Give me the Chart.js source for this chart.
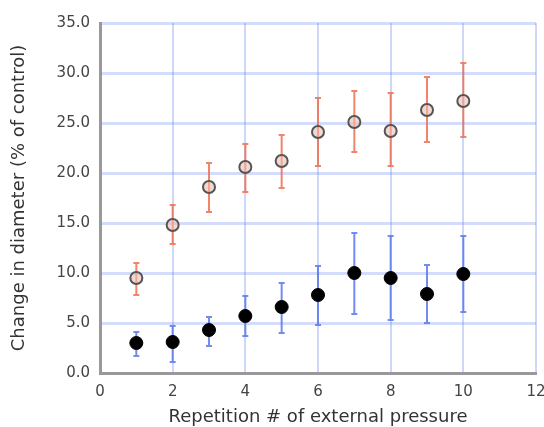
<!DOCTYPE html>
<html>
<head>
<meta charset="utf-8">
<script src="https://cdn.jsdelivr.net/npm/chart.js@4/dist/chart.umd.min.js"></script>
<style>
html,body{margin:0;padding:0;background:#fff;}
#wrap{width:544px;height:427px;position:relative;}
</style>
</head>
<body>
<div id="wrap"><canvas id="c" width="544" height="427"></canvas></div>
<script>
const repetitions = [1, 2, 3, 4, 5, 6, 7, 8, 9, 10];
const openMeans = [9.5, 14.8, 18.6, 20.6, 21.2, 24.1, 25.1, 24.2, 26.3, 27.2];
const openHigh  = [11.0, 16.8, 21.0, 22.9, 23.8, 27.5, 28.2, 28.0, 29.6, 31.0];
const openLow   = [7.8, 12.9, 16.1, 18.1, 18.5, 20.7, 22.1, 20.7, 23.1, 23.6];
const filledMeans = [3.0, 3.1, 4.3, 5.7, 6.6, 7.8, 10.0, 9.5, 7.9, 9.9];
const filledHigh  = [4.1, 4.7, 5.6, 7.7, 9.0, 10.7, 14.0, 13.7, 10.8, 13.7];
const filledLow   = [1.7, 1.1, 2.7, 3.7, 4.0, 4.8, 5.9, 5.3, 5.0, 6.1];
const xTicks = [0, 2, 4, 6, 8, 10, 12];
const yTicks = [0, 5, 10, 15, 20, 25, 30, 35];

const errorBars = {
  id: 'errorBars',
  beforeDatasetsDraw(chart) {
    const ctx = chart.ctx;
    const xs = chart.scales.x, ys = chart.scales.y;
    chart.data.datasets.forEach(ds => {
      ctx.save();
      ctx.strokeStyle = ds.errColor;
      ctx.lineWidth = 2;
      ds.data.forEach((p, i) => {
        const px = xs.getPixelForValue(p.x);
        const hi = ys.getPixelForValue(ds.errHigh[i]);
        const lo = ys.getPixelForValue(ds.errLow[i]);
        ctx.beginPath();
        ctx.moveTo(px, hi); ctx.lineTo(px, lo);
        ctx.moveTo(px - 3, hi); ctx.lineTo(px + 3, hi);
        ctx.moveTo(px - 3, lo); ctx.lineTo(px + 3, lo);
        ctx.stroke();
      });
      ctx.restore();
    });
  }
};

const font = "'DejaVu Sans', Verdana, sans-serif";
new Chart(document.getElementById('c'), {
  type: 'scatter',
  data: {
    datasets: [
      {
        data: repetitions.map((x, i) => ({x: x, y: openMeans[i]})),
        errHigh: openHigh, errLow: openLow, errColor: 'rgba(240,110,80,0.85)',
        pointRadius: 6, pointBorderWidth: 2,
        pointBorderColor: '#555', pointBackgroundColor: 'rgba(235,190,180,0.6)'
      },
      {
        data: repetitions.map((x, i) => ({x: x, y: filledMeans[i]})),
        errHigh: filledHigh, errLow: filledLow, errColor: 'rgba(90,120,235,0.85)',
        pointRadius: 6.5, pointBorderWidth: 1,
        pointBorderColor: '#000', pointBackgroundColor: '#000'
      }
    ]
  },
  options: {
    responsive: false,
    animation: false,
    layout: {padding: {left: 0, right: 0, top: 23, bottom: 0}},
    plugins: {legend: {display: false}, tooltip: {enabled: false}},
    scales: {
      x: {
        type: 'linear', min: 0, max: 12,
        afterBuildTicks: s => { s.ticks = xTicks.map(v => ({value: v})); },
        afterFit: s => { s.height = 54; s.paddingRight = 7; s.paddingLeft = 0; },
        ticks: {font: {family: font, size: 15}, color: '#444', padding: 10, maxRotation: 0},
        grid: {color: 'rgba(110,140,240,0.35)', lineWidth: 2, drawTicks: false},
        border: {color: '#999', width: 3},
        title: {display: true, text: 'Repetition # of external pressure', font: {family: font, size: 18}, color: '#333', padding: {top: 0, bottom: -1}}
      },
      y: {
        min: 0, max: 35,
        afterBuildTicks: s => { s.ticks = yTicks.map(v => ({value: v})); },
        afterFit: s => { s.width = 100; },
        ticks: {font: {family: font, size: 15}, color: '#444', padding: 10, callback: v => v.toFixed(1)},
        grid: {color: 'rgba(110,140,240,0.3)', lineWidth: 3, drawTicks: false},
        border: {color: '#999', width: 3},
        title: {display: true, text: 'Change in diameter (% of control)', font: {family: font, size: 18}, color: '#333', padding: {top: 9, bottom: 0}}
      }
    }
  },
  plugins: [errorBars]
});
</script>
</body>
</html>
